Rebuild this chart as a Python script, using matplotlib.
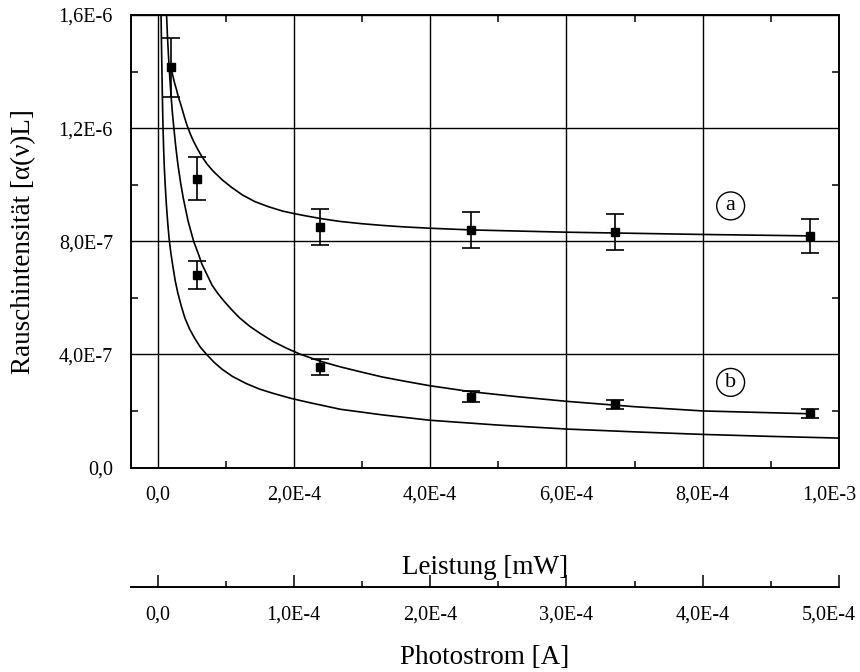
import numpy as np
import matplotlib
matplotlib.use("Agg")
import matplotlib.pyplot as plt
from matplotlib.ticker import MultipleLocator, FuncFormatter

plt.rcParams["font.family"] = ["Liberation Serif", "DejaVu Serif"]

# Messpunkte (Leistung in 1E-4 mW, Rauschintensität in 1E-6)
x_a   = [0.194, 0.580, 2.385, 4.60, 6.71, 9.57]
y_a   = [1.415, 1.021, 0.851, 0.840, 0.832, 0.819]
err_a = [0.105, 0.076, 0.0635, 0.063, 0.063, 0.061]

x_b   = [0.580, 2.385, 4.60, 6.71, 9.57]
y_b   = [0.680, 0.355, 0.251, 0.223, 0.192]
err_b = [0.050, 0.027, 0.019, 0.017, 0.016]

# Fitkurven
curve_a_x = [0.194, 0.22, 0.25, 0.28, 0.306, 0.34, 0.37, 0.40, 0.43, 0.48, 0.53, 0.59,
             0.65, 0.73, 0.82, 0.95, 1.09, 1.25, 1.43, 1.63, 1.83, 2.00, 2.17, 2.40,
             2.68, 3.0, 3.3, 3.6, 4.0, 4.61, 5.3, 6.0, 7.0, 8.0, 9.57]
curve_a_y = [1.415, 1.39, 1.36, 1.335, 1.31, 1.285, 1.26, 1.235, 1.212, 1.18, 1.153, 1.125,
             1.10, 1.072, 1.047, 1.017, 0.990, 0.963, 0.940, 0.922, 0.907, 0.898, 0.890, 0.880,
             0.870, 0.862, 0.856, 0.851, 0.846, 0.840, 0.836, 0.832, 0.828, 0.824, 0.819]

curve_b_x = [0.133, 0.145, 0.16, 0.18, 0.20, 0.22, 0.24, 0.27, 0.30, 0.34, 0.38, 0.45,
             0.53, 0.60, 0.65, 0.72, 0.80, 0.88, 0.97, 1.08, 1.20, 1.35, 1.50, 1.70,
             1.90, 2.10, 2.40, 2.68, 3.00, 3.30, 3.65, 4.00, 4.60, 5.30, 6.00, 7.00,
             8.00, 9.57]
curve_b_y = [1.60, 1.53, 1.46, 1.38, 1.31, 1.25, 1.20, 1.13, 1.07, 1.005, 0.95, 0.87,
             0.80, 0.755, 0.72, 0.685, 0.645, 0.617, 0.59, 0.56, 0.53, 0.50, 0.475, 0.445,
             0.421, 0.40, 0.375, 0.356, 0.337, 0.32, 0.304, 0.289, 0.268, 0.250, 0.234,
             0.215, 0.200, 0.190]

curve_c_x = [0.052, 0.06, 0.07, 0.08, 0.09, 0.10, 0.115, 0.13, 0.15, 0.17, 0.195,
             0.22, 0.26, 0.30, 0.35, 0.40, 0.47, 0.55, 0.63, 0.72, 0.83, 0.95, 1.10,
             1.30, 1.50, 1.70, 1.95, 2.20, 2.68, 3.30, 4.00, 5.00, 6.00, 7.00, 8.00,
             9.00, 10.0]
curve_c_y = [1.60, 1.47, 1.33, 1.21, 1.125, 1.06, 0.99, 0.93, 0.865, 0.81, 0.76,
             0.72, 0.66, 0.615, 0.57, 0.53, 0.49, 0.455, 0.425, 0.40, 0.372, 0.347, 0.322,
             0.297, 0.277, 0.262, 0.245, 0.231, 0.206, 0.186, 0.167, 0.150, 0.136, 0.126,
             0.117, 0.110, 0.104]

label_pos = {"a": (8.41, 0.925), "b": (8.41, 0.301)}

XS = 1e-4
YS = 1e-6
TICK_FS = 14.5
TICK_PAD = 13


def sci_fmt(v, pos=None):
    if abs(v) < 1e-15:
        return "0,0"
    exp = int(np.floor(np.log10(abs(v)) + 1e-9))
    mant = v / 10 ** exp
    return f"{mant:.1f}".replace(".", ",") + f"E{exp}"


def make_fmt(last):
    # letzte Beschriftung wird separat gesetzt (etwas nach links versetzt)
    def f(v, pos=None):
        if abs(v - last) < last * 1e-6:
            return ""
        return sci_fmt(v)
    return FuncFormatter(f)


def edge_label(a, xval):
    a.annotate(sci_fmt(xval), xy=(xval, 0), xycoords=("data", "axes fraction"),
               xytext=(-7, -TICK_PAD), textcoords="offset points",
               ha="center", va="top", fontsize=TICK_FS, annotation_clip=False)


fig = plt.figure(figsize=(8.6, 6.72), dpi=100)
ax = fig.add_axes([131 / 860, 1 - 467.5 / 672, 708 / 860, 452.5 / 672])

lw = 1.1
for x, y in [(curve_a_x, curve_a_y), (curve_b_x, curve_b_y), (curve_c_x, curve_c_y)]:
    ax.plot(np.array(x) * XS, np.array(y) * YS, color="black", lw=1.2, zorder=3)

for x, y, e in [(x_a, y_a, err_a), (x_b, y_b, err_b)]:
    ax.errorbar(np.array(x) * XS, np.array(y) * YS, yerr=np.array(e) * YS,
                fmt="s", color="black", ms=5.8, elinewidth=1.2, capsize=6.5,
                capthick=1.2, zorder=4)

for txt, (lx, ly) in label_pos.items():
    ax.text(lx * XS, ly * YS, txt, fontsize=16, ha="center", va="center", zorder=5,
            bbox=dict(boxstyle="circle,pad=0.2", fc="white", ec="black", lw=1.0))

ax.set_xlim(-0.389e-4, 1.0e-3)
ax.set_ylim(0, 1.6e-6)
ax.xaxis.set_major_locator(MultipleLocator(2e-4))
ax.xaxis.set_minor_locator(MultipleLocator(1e-4))
ax.yaxis.set_major_locator(MultipleLocator(4e-7))
ax.yaxis.set_minor_locator(MultipleLocator(2e-7))
ax.xaxis.set_major_formatter(make_fmt(1e-3))
ax.yaxis.set_major_formatter(FuncFormatter(sci_fmt))
ax.grid(True, which="major", color="black", lw=1.0, zorder=1)
ax.set_axisbelow(True)
ax.tick_params(which="both", direction="in", top=True, right=True, width=lw)
ax.tick_params(which="major", length=0, labelsize=TICK_FS, pad=TICK_PAD)
ax.tick_params(which="minor", length=5)
for s in ax.spines.values():
    s.set_linewidth(1.4)
ax.set_xlabel("Leistung [mW]", fontsize=19.5, labelpad=36)
ax.set_ylabel("Rauschintensität [α(ν)L]", fontsize=19.5, labelpad=16)
edge_label(ax, 1e-3)

# zweite Achse: Photostrom
ax2 = fig.add_axes([131 / 860, 1 - 587 / 672, 708 / 860, 0.0001])
ax2.patch.set_visible(False)
for k in ["top", "left", "right"]:
    ax2.spines[k].set_visible(False)
ax2.spines["bottom"].set_linewidth(1.4)
ax2.set_yticks([])
ax2.set_xlim(-0.389e-4 / 2, 0.5e-3)
ax2.xaxis.set_major_locator(MultipleLocator(1e-4))
ax2.xaxis.set_minor_locator(MultipleLocator(0.5e-4))
ax2.xaxis.set_major_formatter(make_fmt(5e-4))
ax2.tick_params(which="both", direction="in", width=lw)
ax2.tick_params(which="major", length=9, labelsize=TICK_FS, pad=TICK_PAD)
ax2.tick_params(which="minor", length=4)
ax2.set_xlabel("Photostrom [A]", fontsize=19.5, labelpad=15)
edge_label(ax2, 5e-4)

fig.savefig("out.png", dpi=100)
